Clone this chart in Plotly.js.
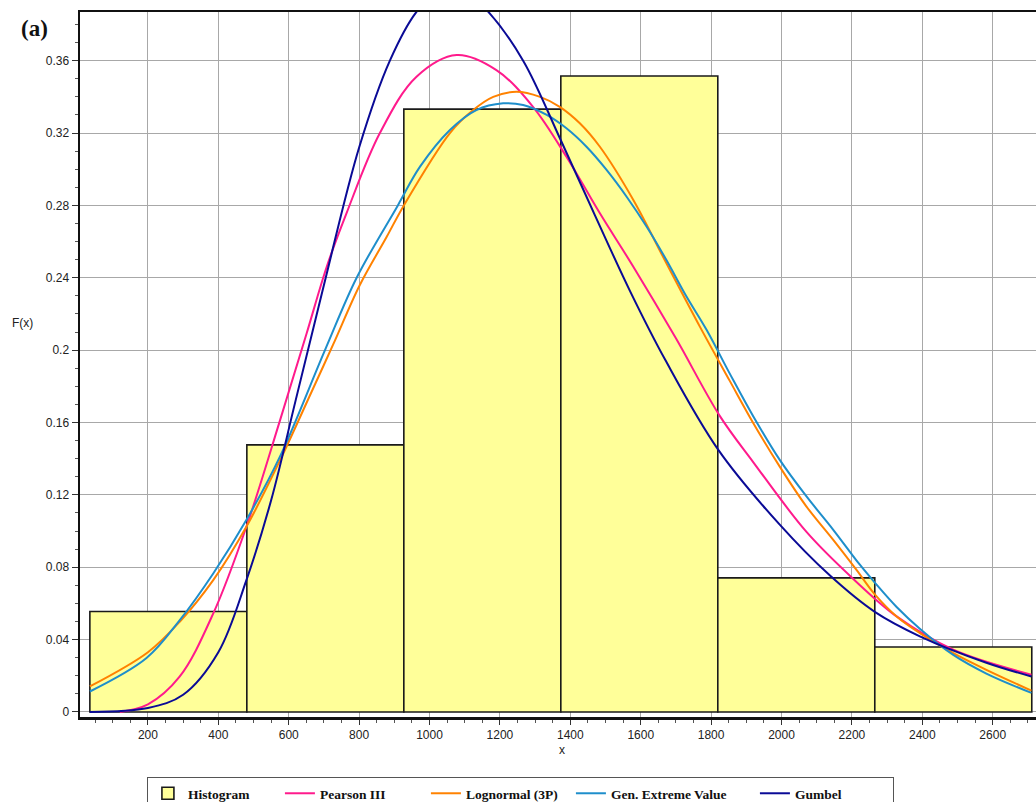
<!DOCTYPE html>
<html>
<head>
<meta charset="utf-8">
<script src="https://cdn.plot.ly/plotly-3.0.1.min.js"></script>
<style>
html,body{margin:0;padding:0;background:#fff;}
#chart{width:1036px;height:802px;}
</style>
</head>
<body>
<div id="chart"></div>
<script>
// ---- data ----
const binEdges = [35, 481, 927, 1373, 1819, 2265, 2711];
const histHeights = [0.0555, 0.1476, 0.3332, 0.3515, 0.0741, 0.0359];

const pearsonX = [120, 200, 290, 386, 480, 575, 651, 708, 764, 859, 963, 1077, 1190, 1294, 1389, 1484, 1579, 1700, 1825, 1920, 2071, 2204, 2327, 2488, 2710];
const pearsonY = [0.0, 0.0042, 0.0195, 0.0546, 0.1025, 0.161, 0.2093, 0.2461, 0.2756, 0.320, 0.3511, 0.3631, 0.3548, 0.3345, 0.3069, 0.2756, 0.2461, 0.2065, 0.1635, 0.138, 0.0995, 0.0735, 0.0528, 0.0344, 0.0206];

const lognormX = [35, 200, 291, 386, 480, 575, 665, 726, 802, 878, 927, 1058, 1124, 1181, 1247, 1314, 1370, 1427, 1484, 1579, 1673, 1768, 1853, 1920, 1995, 2071, 2147, 2213, 2265, 2327, 2393, 2488, 2582, 2710];
const lognormY = [0.0141, 0.033, 0.050, 0.073, 0.1025, 0.139, 0.177, 0.203, 0.236, 0.2625, 0.280, 0.320, 0.3327, 0.340, 0.3428, 0.340, 0.3345, 0.3254, 0.3124, 0.283, 0.248, 0.213, 0.183, 0.1596, 0.1356, 0.1135, 0.0951, 0.0785, 0.065, 0.0528, 0.0436, 0.0325, 0.0233, 0.0118];

const gevX = [35, 196, 291, 386, 480, 575, 703, 793, 910, 973, 1058, 1133, 1209, 1266, 1333, 1389, 1446, 1503, 1560, 1617, 1673, 1730, 1787, 1853, 1920, 1995, 2071, 2147, 2222, 2265, 2327, 2393, 2488, 2582, 2710];
const gevY = [0.0113, 0.0298, 0.0509, 0.0767, 0.1062, 0.1411, 0.200, 0.240, 0.280, 0.3014, 0.3217, 0.3327, 0.3364, 0.3355, 0.330, 0.3226, 0.3124, 0.2996, 0.2848, 0.2682, 0.2498, 0.2296, 0.2112, 0.187, 0.1633, 0.1393, 0.1191, 0.1007, 0.0815, 0.0715, 0.058, 0.046, 0.0315, 0.0212, 0.0105];

const gumbelX = [35, 200, 300, 400, 480, 550, 620, 700, 800, 888, 963, 1060, 1167, 1266, 1373, 1470, 1570, 1670, 1820, 1995, 2137, 2265, 2393, 2582, 2710];
const gumbelY = [0.0, 0.0022, 0.0095, 0.033, 0.073, 0.117, 0.1725, 0.236, 0.312, 0.3603, 0.387, 0.405, 0.387, 0.360, 0.316, 0.2745, 0.2325, 0.1945, 0.145, 0.1035, 0.0755, 0.0553, 0.0418, 0.0272, 0.0196];

const seriesNames = ['Histogram', 'Pearson III', 'Lognormal (3P)', 'Gen. Extreme Value', 'Gumbel'];
const xTickStep = 200;
const yTickStep = 0.04;

// ---- build traces ----
const binCenters = [];
const binWidths = [];
for (let i = 0; i < histHeights.length; i++) {
  binCenters.push((binEdges[i] + binEdges[i + 1]) / 2);
  binWidths.push(binEdges[i + 1] - binEdges[i]);
}

const lineStyle = (c) => ({color: c, width: 2, shape: 'spline', smoothing: 1});

const traces = [
  {type: 'bar', x: binCenters, y: histHeights, width: binWidths, name: seriesNames[0], legendwidth: 87,
   marker: {color: '#FFFF99', line: {color: '#1a1a1a', width: 1.6}}},
  {type: 'scatter', mode: 'lines', x: pearsonX, y: pearsonY, name: seriesNames[1], legendwidth: 101, line: lineStyle('#FF1A8C')},
  {type: 'scatter', mode: 'lines', x: lognormX, y: lognormY, name: seriesNames[2], legendwidth: 100, line: lineStyle('#FF8200')},
  {type: 'scatter', mode: 'lines', x: gevX, y: gevY, name: seriesNames[3], legendwidth: 139, line: lineStyle('#1E8ECB')},
  {type: 'scatter', mode: 'lines', x: gumbelX, y: gumbelY, name: seriesNames[4], legendwidth: 93, line: lineStyle('#0A0A96')}
];

const tickFont = {family: 'Liberation Sans, Arial, sans-serif', size: 12, color: '#222'};

const layout = {
  width: 1036, height: 802,
  margin: {l: 80, r: 0, t: 12, b: 85, pad: 0, autoexpand: false},
  paper_bgcolor: '#ffffff', plot_bgcolor: '#ffffff',
  showlegend: true,
  bargap: 0,
  xaxis: {
    range: [7, 2723], dtick: xTickStep, tick0: 0,
    showgrid: true, gridcolor: '#a8a8a8', gridwidth: 1,
    zeroline: false, showline: true, linecolor: '#111', linewidth: 2.5, mirror: true,
    ticks: 'outside', ticklen: 5, tickcolor: '#333', tickwidth: 1,
    minor: {dtick: 50, ticks: 'outside', ticklen: 3, tickcolor: '#555', showgrid: false},
    tickfont: tickFont
  },
  yaxis: {
    range: [-0.0028, 0.3869], dtick: yTickStep, tick0: 0,
    showgrid: true, gridcolor: '#a8a8a8', gridwidth: 1,
    zeroline: false, showline: true, linecolor: '#111', linewidth: 2.5, mirror: false,
    ticks: 'outside', ticklen: 6, tickcolor: '#333', tickwidth: 1,
    minor: {dtick: 0.01, ticks: 'outside', ticklen: 3, tickcolor: '#555', showgrid: false},
    tickfont: tickFont
  },
  legend: {
    orientation: 'h', x: 0.0700, xanchor: 'left', y: -0.0851, yanchor: 'top',
    bordercolor: '#555', borderwidth: 1, bgcolor: '#fff',
    font: {family: 'Liberation Serif, Times New Roman, serif', size: 13.5, color: '#111', weight: 'bold'},
    traceorder: 'normal'
  },
  annotations: [
    {text: '(a)', xref: 'paper', yref: 'paper', x: -0.0638, y: 0.977, xanchor: 'left', yanchor: 'middle', showarrow: false,
     font: {family: 'Liberation Serif, Times New Roman, serif', size: 23, color: '#111', weight: 'bold'}},
    {text: 'F(x)', xref: 'paper', yref: 'paper', x: -0.06, y: 0.559, xanchor: 'center', yanchor: 'middle', showarrow: false,
     font: {family: 'Liberation Sans, Arial, sans-serif', size: 12, color: '#222'}},
    {text: 'x', xref: 'paper', yref: 'paper', x: 0.504, y: -0.0465, xanchor: 'center', yanchor: 'middle', showarrow: false,
     font: {family: 'Liberation Sans, Arial, sans-serif', size: 12, color: '#222'}}
  ]
};

Plotly.newPlot('chart', traces, layout, {displayModeBar: false, staticPlot: true});
</script>
</body>
</html>
